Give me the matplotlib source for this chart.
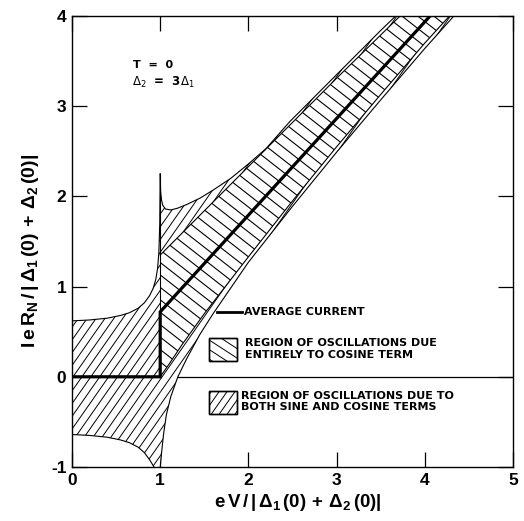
import numpy as np
import matplotlib
matplotlib.use("Agg")
import matplotlib.pyplot as plt
from matplotlib.patches import Polygon, Rectangle
from matplotlib.collections import LineCollection

plt.rcParams['font.family'] = ['Liberation Sans', 'DejaVu Sans']
plt.rcParams['mathtext.fontset'] = 'custom'
plt.rcParams['mathtext.rm'] = 'Liberation Sans:bold'
plt.rcParams['mathtext.it'] = 'Liberation Sans:bold'
plt.rcParams['mathtext.bf'] = 'Liberation Sans:bold'

# ---------------- data ----------------
# average current
avg_x = [0.0, 1.0, 1.0, 4.06]
avg_y = [0.0, 0.0, 0.72, 4.0]

# envelope below the gap (sine + cosine)
sine_upper_left_x = [0.0, 0.2, 0.4, 0.55, 0.65, 0.75, 0.82, 0.88, 0.92, 0.95, 0.97, 0.985, 0.995, 1.0]
sine_upper_left_y = [0.62, 0.63, 0.65, 0.68, 0.71, 0.76, 0.82, 0.90, 0.98, 1.08, 1.20, 1.38, 1.70, 2.25]
sine_lower_left_x = [0.0, 0.2, 0.4, 0.55, 0.65, 0.75, 0.82, 0.88, 0.93]
sine_lower_left_y = [-0.64, -0.65, -0.67, -0.70, -0.73, -0.78, -0.84, -0.92, -1.0]

# envelope above the gap (sine + cosine)
sine_upper_right_x = [1.0, 1.005, 1.015, 1.03, 1.06, 1.12, 1.2, 1.3, 1.45, 1.6, 1.8, 2.0, 2.2, 2.47, 3.0, 3.5, 3.67]
sine_upper_right_y = [2.25, 2.05, 1.96, 1.90, 1.86, 1.85, 1.87, 1.91, 1.98, 2.07, 2.20, 2.36, 2.53, 2.83, 3.35, 3.84, 4.0]
sine_lower_right_x = [1.0, 1.02, 1.04, 1.07, 1.12, 1.2, 1.3, 1.45, 1.6, 2.0, 2.5, 3.0, 3.5, 4.0, 4.33]
sine_lower_right_y = [-1.0, -0.8, -0.62, -0.42, -0.22, 0.0, 0.20, 0.47, 0.70, 1.27, 1.89, 2.49, 3.07, 3.64, 4.0]

# envelope of the cosine term alone
cos_upper_x = [1.0, 2.0, 3.0, 3.72]
cos_upper_y = [1.35, 2.33, 3.31, 4.0]
cos_lower_x = [1.0, 1.1, 1.25, 1.5, 2.0, 2.5, 3.0, 3.5, 4.0, 4.28]
cos_lower_y = [0.0, 0.14, 0.36, 0.70, 1.33, 1.95, 2.55, 3.13, 3.70, 4.0]

x_ticks = [0, 1, 2, 3, 4, 5]
x_ticklabels = ['0', '1', '2', '3', '4', '5']
y_ticks = [-1, 0, 1, 2, 3, 4]
y_ticklabels = ['-1', '0', '1', '2', '3', '4']

legend_avg = 'AVERAGE CURRENT'
legend_cos = 'REGION OF OSCILLATIONS DUE\nENTIRELY TO COSINE TERM'
legend_sin = 'REGION OF OSCILLATIONS DUE TO\nBOTH SINE AND COSINE TERMS'

# ---------------- figure ----------------
fig = plt.figure(figsize=(5.24, 5.21), dpi=100)
ax = fig.add_axes([72 / 524, 54 / 521, 441 / 524, 451 / 521])
ax.set_xlim(0, 5)
ax.set_ylim(-1, 4)
ax.set_axisbelow(True)

LW_THIN = 0.8


def hatch(patch, angle, spacing, lw=0.7):
    ax.add_patch(patch)
    bb = ax.bbox
    c = np.array([(bb.x0 + bb.x1) / 2, (bb.y0 + bb.y1) / 2])
    L = np.hypot(bb.width, bb.height)
    a = np.radians(angle)
    d = np.array([np.cos(a), np.sin(a)])
    n = np.array([-np.sin(a), np.cos(a)])
    inv = ax.transData.inverted()
    m = int(L / spacing) + 2
    segs = []
    for k in range(-m, m + 1):
        p = c + n * k * spacing
        segs.append(inv.transform(np.array([p - d * L, p + d * L])))
    lc = LineCollection(segs, colors='black', linewidths=lw, zorder=patch.get_zorder() + 0.1)
    ax.add_collection(lc, autolim=False)
    lc.set_clip_path(patch)


def pts(xs, ys):
    return list(zip(xs, ys))


# zero line
ax.axhline(0, color='black', lw=0.9, zorder=0.8)

poly_left = pts(sine_upper_left_x, sine_upper_left_y) + [(1.0, -1.0)] + \
    pts(sine_lower_left_x[::-1], sine_lower_left_y[::-1])
poly_rlow = [(1.0, -1.0), (1.0, 0.0)] + pts(cos_lower_x, cos_lower_y) + \
    pts(sine_lower_right_x[::-1], sine_lower_right_y[::-1])
poly_rup = [(1.0, cos_upper_y[0])] + pts(sine_upper_right_x, sine_upper_right_y) + \
    pts(cos_upper_x[::-1], cos_upper_y[::-1])
poly_cos = [(1.0, 0.0)] + pts(cos_upper_x, cos_upper_y) + pts(cos_lower_x[::-1], cos_lower_y[::-1])

for poly in (poly_left, poly_rlow, poly_rup):
    hatch(Polygon(poly, closed=True, fc='white', ec='none', zorder=1), 55, 7.3)
hatch(Polygon(poly_cos, closed=True, fc='white', ec='none', zorder=1), -38, 9.8, lw=0.8)

for xs, ys in [(sine_upper_left_x, sine_upper_left_y), (sine_lower_left_x, sine_lower_left_y),
               (sine_upper_right_x, sine_upper_right_y), (sine_lower_right_x, sine_lower_right_y),
               (cos_upper_x, cos_upper_y), (cos_lower_x, cos_lower_y)]:
    ax.plot(xs, ys, color='black', lw=LW_THIN, zorder=2)
ax.plot([1.0, 1.0], [avg_y[2], sine_upper_right_y[0]], color='black', lw=LW_THIN, zorder=2)

ax.plot(avg_x, avg_y, color='black', lw=2.3, zorder=3, solid_joinstyle='miter')

# ---------------- legend ----------------
lfont = dict(family='DejaVu Sans', weight='bold', fontsize=8)
ax.plot([1.644, 1.927], [0.72, 0.72], color='black', lw=2.0, zorder=3)
ax.text(1.95, 0.72, legend_avg, va='center', ha='left', **lfont)

box_cos = Rectangle((1.553, 0.175), 0.318, 0.255, fc='white', ec='black', lw=1.0, zorder=1)
hatch(box_cos, -33, 8.0)
ax.add_patch(Rectangle((1.553, 0.175), 0.318, 0.255, fc='none', ec='black', lw=1.0, zorder=2))
ax.text(1.96, 0.31, legend_cos, va='center', ha='left', linespacing=1.2, **lfont)

box_sin = Rectangle((1.553, -0.413), 0.318, 0.255, fc='white', ec='black', lw=1.0, zorder=1)
hatch(box_sin, 55, 6.5)
ax.add_patch(Rectangle((1.553, -0.413), 0.318, 0.255, fc='none', ec='black', lw=1.0, zorder=2))
ax.text(1.916, -0.272, legend_sin, va='center', ha='left', linespacing=1.2, **lfont)

# annotations
ax.text(0.69, 3.46, 'T  =  0', ha='left', va='center', fontsize=8,
        family='DejaVu Sans', weight='bold')
ax.text(0.68, 3.26, r'$\Delta_2$  =  3$\Delta_1$', ha='left', va='center', fontsize=8.5,
        family='DejaVu Sans', weight='bold', math_fontfamily='dejavusans')

# ---------------- axes styling ----------------
ax.set_xticks(x_ticks)
ax.set_xticklabels(x_ticklabels)
ax.set_yticks(y_ticks)
ax.set_yticklabels(y_ticklabels)
ax.tick_params(direction='in', length=11, width=0.9, top=True, right=True,
               labelsize=12.5, pad=4)
for lab in ax.get_xticklabels() + ax.get_yticklabels():
    lab.set_fontweight('bold')
for s in ax.spines.values():
    s.set_linewidth(1.0)

ax.text(0.512, -0.078, r'$e\,V\,/\,\left|\,\Delta_1\,(0)\,+\,\Delta_2\,(0)\right|$',
        transform=ax.transAxes, ha='center', va='center', fontsize=13.5)
ax.text(-0.095, 0.48, r'$I\,e\,R_N\,/\,\left|\,\Delta_1\,(0)\,+\,\Delta_2\,(0)\right|$',
        transform=ax.transAxes, ha='center', va='center', rotation=90, fontsize=14)

fig.savefig('out.png', dpi=100)
